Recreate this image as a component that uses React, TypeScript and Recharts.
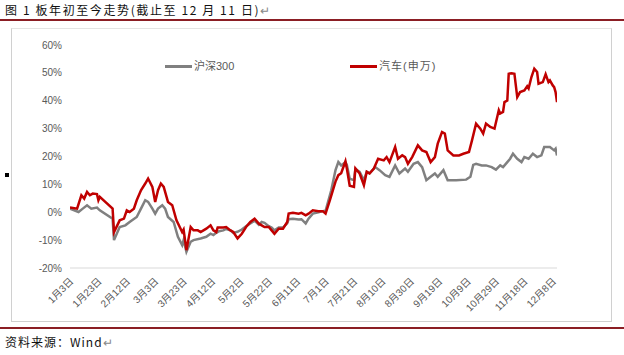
import React from 'react';
import { LineChart, Line, XAxis, YAxis } from 'recharts';

// 沪深300 (gray)
const hsDates = [
  '1-3', '1-9', '1-12', '1-15', '1-18', '1-22', '1-24', '2-2', '2-3', '2-7', '2-11', '2-14', '2-19', '2-22',
  '2-25', '2-27', '3-1', '3-3', '3-5', '3-8', '3-10', '3-12', '3-16', '3-19', '3-22', '3-23', '3-25', '3-28',
  '3-30', '4-4', '4-8', '4-11', '4-13', '4-15', '4-17', '4-20', '4-22', '4-25', '4-27', '4-30', '5-3', '5-6',
  '5-9', '5-12', '5-15', '5-17', '5-19', '5-22', '5-24', '5-26', '5-29', '6-1', '6-4', '6-5', '6-8', '6-12',
  '6-14', '6-17', '6-19', '6-22', '6-26', '6-29', '7-1', '7-5', '7-8', '7-10', '7-12', '7-15', '7-16', '7-18',
  '7-21', '7-22', '7-25', '7-28', '7-30', '8-1', '8-5', '8-8', '8-12', '8-15', '8-19', '8-22', '8-26', '8-28',
  '9-1', '9-4', '9-7', '9-10', '9-13', '9-16', '9-18', '9-22', '9-25', '10-1', '10-8', '10-11', '10-13', '10-15',
  '10-19', '10-22', '10-26', '10-29', '11-1', '11-3', '11-6', '11-8', '11-10', '11-13', '11-16', '11-18', '11-21',
  '11-24', '11-27', '11-30', '12-2', '12-6', '12-9', '12-10', '12-11',
];
const hsValues = [
  1.3, 0.1, 1.3, 2.5, 1.3, 1.7, 0.7, -2.3, -10.0, -5.3, -4.7, -3.5, -1.7, 1.3,
  4.3, 3.7, 1.3, -0.5, 1.3, 2.5, 1.3, -1.7, -3.5, -8.8, -11.8, -10.0, -14.2, -10.6,
  -10.0, -9.4, -8.8, -7.7, -8.2, -7.4, -6.8, -6.5, -6.0, -6.5, -7.4, -7.0, -6.2, -5.0,
  -4.0, -3.0, -4.5, -3.5, -3.8, -5.0, -5.5, -6.5, -5.5, -5.5, -4.0, -2.5, -2.3, -2.6,
  -2.5, -4.0, -2.3, -0.5, 0.0, 0.4, 0.5, 7.9, 15.1, 18.0, 16.8, 18.0, 17.0, 12.0,
  11.5, 15.5, 14.5, 11.5, 14.5, 14.0, 16.2, 15.1, 13.3, 12.7, 16.8, 13.9, 15.7, 14.5,
  17.4, 18.0, 16.2, 11.5, 12.7, 13.9, 12.7, 15.1, 11.5, 11.5, 11.7, 12.7, 17.0, 17.4,
  16.8, 16.8, 16.2, 15.3, 16.8, 16.2, 18.0, 19.2, 21.0, 19.2, 18.0, 19.8, 19.2,
  21.0, 19.8, 20.4, 23.4, 23.4, 22.2, 22.8, 20.4,
];

// 汽车(申万) (red)
const autoDates = [
  '1-3', '1-8', '1-11', '1-13', '1-15', '1-17', '1-19', '1-22', '1-23', '1-24', '2-2', '2-3', '2-7', '2-10',
  '2-12', '2-14', '2-17', '2-19', '2-22', '2-25', '2-27', '3-1', '3-3', '3-5', '3-7', '3-9', '3-11', '3-12',
  '3-15', '3-18', '3-22', '3-23', '3-25', '3-28', '3-30', '4-2', '4-4', '4-6', '4-8', '4-11', '4-13', '4-15',
  '4-16', '4-20', '4-22', '4-25', '4-27', '4-30', '5-3', '5-6', '5-9', '5-12', '5-15', '5-17', '5-19', '5-22',
  '5-24', '5-26', '5-29', '6-1', '6-4', '6-5', '6-8', '6-12', '6-14', '6-17', '6-19', '6-22', '6-26', '6-29',
  '7-1', '7-4', '7-8', '7-10', '7-12', '7-15', '7-16', '7-18', '7-21', '7-22', '7-25', '7-28', '7-30', '8-1',
  '8-4', '8-7', '8-11', '8-13', '8-15', '8-19', '8-21', '8-24', '8-26', '8-28', '8-31', '9-4', '9-7', '9-10',
  '9-13', '9-16', '9-18', '9-21', '9-23', '9-25', '9-29', '10-3', '10-6', '10-10', '10-12', '10-15', '10-18',
  '10-20', '10-22', '10-25', '10-28', '10-31', '11-1', '11-3', '11-4', '11-6', '11-7', '11-9', '11-11', '11-13',
  '11-15', '11-18', '11-20', '11-21', '11-23', '11-25', '11-27', '11-28', '12-1', '12-3', '12-5', '12-6', '12-8',
  '12-9', '12-10', '12-11',
];
const autoValues = [
  1.7, 1.3, 6.1, 4.9, 7.3, 6.1, 6.7, 6.5, 4.3, 5.5, 1.3, -7.1, -2.9, -2.3,
  0.7, 0.1, 1.3, 4.3, 7.9, 10.3, 12.1, 9.1, 3.7, 7.9, 10.3, 9.1, 5.5, 3.7,
  2.5, -2.9, -7.1, -6.2, -13.6, -5.3, -6.5, -6.5, -7.1, -6.5, -5.9, -4.7, -6.5, -7.1,
  -5.5, -5.5, -5.3, -6.5, -7.1, -9.4, -7.7, -5.3, -3.5, -2.3, -4.1, -4.7, -5.3, -5.3,
  -6.5, -7.7, -5.9, -5.9, -3.5, -0.5, -0.2, -0.5, -0.2, -1.1, -0.5, 0.7, 0.4, 0.4,
  -0.5, 4.3, 11.0, 13.3, 14.0, 18.3, 15.7, 9.5, 9.1, 15.7, 13.9, 9.7, 14.5, 13.9,
  15.7, 19.2, 18.6, 19.8, 18.0, 23.4, 19.2, 20.4, 19.8, 17.4, 19.8, 24.0, 22.2, 21.6,
  18.0, 19.8, 24.6, 28.8, 28.2, 22.2, 20.4, 20.4, 21.0, 21.6, 25.5, 31.8, 30.0,
  28.2, 31.8, 30.6, 30.0, 36.6, 35.4, 36.0, 39.5, 40.1, 49.7, 49.9, 49.7, 41.3,
  43.1, 43.7, 45.2, 44.4, 48.5, 51.5, 50.3, 46.1, 46.7, 49.5, 46.7, 47.3, 45.5,
  44.9, 43.1, 39.5,
];

const tickDates = [
  '1-3', '1-23', '2-12', '3-3', '3-23', '4-12', '5-2', '5-22', '6-11', '7-1', '7-21', '8-10', '8-30', '9-19',
  '10-9', '10-29', '11-18', '12-8',
];
const yTicks = [-20, -10, 0, 10, 20, 30, 40, 50, 60];

const toTime = (md: string) => {
  const [m, d] = md.split('-').map(Number);
  return Date.UTC(2020, m - 1, d);
};

const hsSeries = hsDates.map((d, i) => ({ t: toTime(d), v: hsValues[i] }));
const autoSeries = autoDates.map((d, i) => ({ t: toTime(d), v: autoValues[i] }));

const FONT = '"Liberation Sans", "Noto Sans CJK SC", sans-serif';
const CJK = '"Noto Sans CJK SC", sans-serif';

const DateTick = (props: any) => {
  const { x, y, payload } = props;
  const dt = new Date(payload.value);
  const px = x + 4;
  const py = y + 6;
  return (
    <text
      x={px}
      y={py}
      transform={`rotate(-45 ${px} ${py})`}
      textAnchor="end"
      fontSize={10}
      fill="#595959"
      fontFamily={FONT}
    >
      {`${dt.getUTCMonth() + 1}月${dt.getUTCDate()}日`}
    </text>
  );
};

const LegendBox = () => (
  <div style={{ position: 'absolute', left: 0, top: 56, width: 624, height: 20, fontFamily: FONT, fontSize: 11, color: '#595959' }}>
    <div style={{ position: 'absolute', left: 165, top: 9, width: 27, height: 3, background: '#808080' }} />
    <div style={{ position: 'absolute', left: 194, top: 2, lineHeight: '16px' }}>沪深300</div>
    <div style={{ position: 'absolute', left: 350, top: 9, width: 27, height: 3, background: '#C00000' }} />
    <div style={{ position: 'absolute', left: 379, top: 2, lineHeight: '16px', letterSpacing: 1 }}>汽车(申万)</div>
  </div>
);

export default function App() {
  return (
    <div style={{ position: 'absolute', left: 0, top: 0, width: 624, height: 355, background: '#fff', overflow: 'hidden' }}>
      <div style={{ position: 'absolute', left: 5, top: 1, fontFamily: CJK, fontSize: 12, color: '#111', whiteSpace: 'nowrap', letterSpacing: 1.6 }}>
        图 1 板年初至今走势(截止至 12 月 11 日)<span style={{ color: '#888' }}>↵</span>
      </div>
      <div style={{ position: 'absolute', left: 0, top: 19, width: 624, height: 2, background: '#8B1E24' }} />
      <div
        style={{
          position: 'absolute',
          left: 11,
          top: 28,
          width: 601,
          height: 294,
          borderLeft: '1px solid #d0d0d0',
          borderTop: '1px solid #e4e4e4',
          borderRight: '1px solid #d0d0d0',
          borderBottom: '1px solid #d0d0d0',
          boxSizing: 'border-box',
        }}
      />
      <div style={{ position: 'absolute', left: 5, top: 173, width: 4, height: 4, background: '#000' }} />
      <div style={{ position: 'absolute', left: 0, top: 0 }}>
        <LineChart width={624} height={355} margin={{ top: 45, right: 67, bottom: 47, left: 10 }}>
          <XAxis
            dataKey="t"
            type="number"
            domain={[toTime('1-3'), toTime('12-11')]}
            ticks={tickDates.map(toTime)}
            tick={<DateTick />}
            tickLine={false}
            axisLine={{ stroke: '#d9d9d9' }}
            height={40}
            interval={0}
            allowDataOverflow
          />
          <YAxis
            type="number"
            domain={[-20, 60]}
            ticks={yTicks}
            tickFormatter={(v: number) => `${v}%`}
            tick={{ fill: '#595959', fontSize: 10, fontFamily: FONT }}
            tickLine={false}
            axisLine={false}
            width={60}
            interval={0}
          />
          <Line
            data={hsSeries}
            dataKey="v"
            name="沪深300"
            stroke="#808080"
            strokeWidth={2.5}
            dot={false}
            isAnimationActive={false}
          />
          <Line
            data={autoSeries}
            dataKey="v"
            name="汽车(申万)"
            stroke="#C00000"
            strokeWidth={2.5}
            dot={false}
            isAnimationActive={false}
          />
        </LineChart>
      </div>
      <LegendBox />
      <div style={{ position: 'absolute', left: 0, top: 327, width: 624, height: 2, background: '#8B1E24' }} />
      <div style={{ position: 'absolute', left: 5, top: 333, fontFamily: CJK, fontSize: 12, color: '#111', whiteSpace: 'nowrap', letterSpacing: 1 }}>
        资料来源：Wind<span style={{ color: '#888' }}>↵</span>
      </div>
    </div>
  );
}
